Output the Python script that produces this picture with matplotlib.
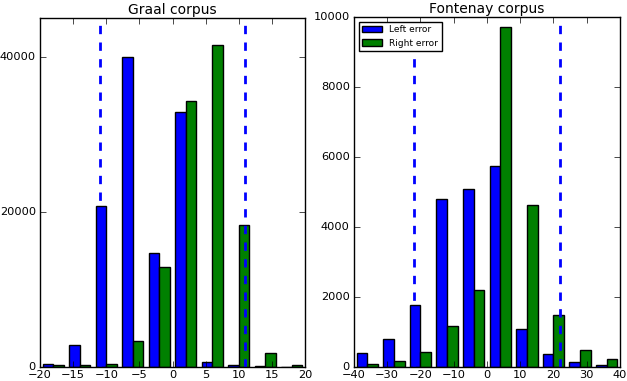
import matplotlib
matplotlib.use("Agg")
import matplotlib.pyplot as plt
import numpy as np

# binned boundary errors, one pair of series per corpus
graal_edges = np.linspace(-20, 20, 11)
graal_left = [440, 2790, 20800, 40000, 14710, 32930, 690, 300, 130, 50]
graal_right = [220, 200, 390, 3300, 12860, 34260, 41470, 18270, 1850, 220]
graal_cut = 11

fontenay_edges = np.linspace(-40, 40, 11)
fontenay_left = [400, 793, 1775, 4800, 5080, 5755, 1099, 383, 143, 69]
fontenay_right = [97, 172, 441, 1165, 2196, 9718, 4620, 1472, 498, 229]
fontenay_cut = 22

plt.style.use("classic")
plt.rcParams["figure.facecolor"] = "white"
plt.rcParams["font.size"] = 8


def draw_panel(ax, edges, left, right, cut, title):
    width = edges[1] - edges[0]
    centers = (edges[:-1] + edges[1:]) / 2
    bw = 0.8 * width / 2  # two datasets share 80% of each bin
    ax.bar(centers - bw / 2, left, width=bw, color="b", edgecolor="k",
           label="Left error")
    ax.bar(centers + bw / 2, right, width=bw, color="g", edgecolor="k",
           label="Right error")
    ax.axvline(-cut, color="b", linestyle="--", linewidth=2)
    ax.axvline(cut, color="b", linestyle="--", linewidth=2)
    ax.set_xlim(edges[0], edges[-1])
    ax.set_title(title, fontsize=10, pad=3)


fig = plt.figure(figsize=(6.27, 3.81), dpi=100)
ax1 = fig.add_axes([40 / 627, 14 / 381, 265 / 627, 349 / 381])
ax2 = fig.add_axes([354 / 627, 14 / 381, 266 / 627, 350 / 381])

draw_panel(ax1, graal_edges, graal_left, graal_right, graal_cut, "Graal corpus")
ax1.set_ylim(0, 45000)
ax1.set_yticks([0, 20000, 40000])
ax1.set_xticks(np.arange(-20, 21, 5))

draw_panel(ax2, fontenay_edges, fontenay_left, fontenay_right, fontenay_cut,
           "Fontenay corpus")
ax2.set_ylim(0, 10000)
ax2.set_xticks(np.arange(-40, 41, 10))
ax2.legend(loc="upper left", fontsize=6.5, handlelength=2.2)

for ax in (ax1, ax2):
    ax.tick_params(labelsize=8.2)
    ax.tick_params(axis="x", pad=2)
    ax.tick_params(axis="y", pad=3)

fig.savefig("out.png", dpi=100)
